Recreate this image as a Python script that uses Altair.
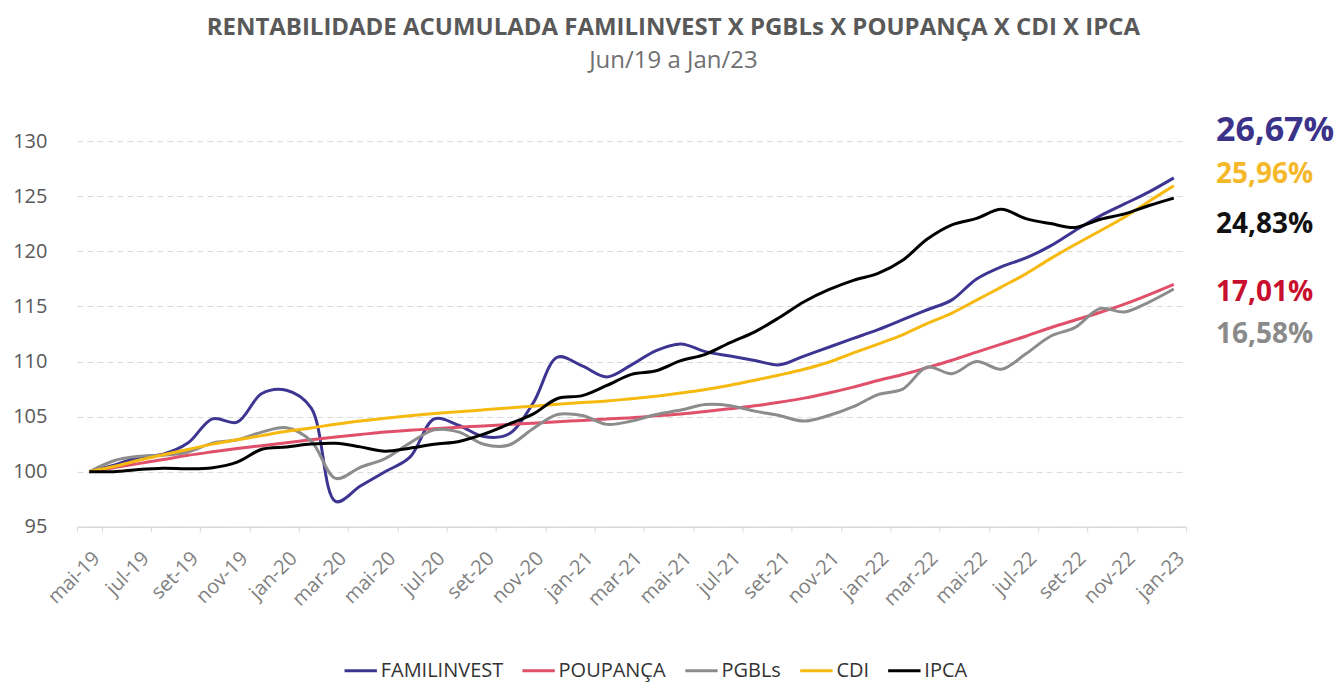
import altair as alt
import pandas as pd

meses = ["mai-19", "jun-19", "jul-19", "ago-19", "set-19", "out-19", "nov-19", "dez-19",
         "jan-20", "fev-20", "mar-20", "abr-20", "mai-20", "jun-20", "jul-20", "ago-20",
         "set-20", "out-20", "nov-20", "dez-20", "jan-21", "fev-21", "mar-21", "abr-21",
         "mai-21", "jun-21", "jul-21", "ago-21", "set-21", "out-21", "nov-21", "dez-21",
         "jan-22", "fev-22", "mar-22", "abr-22", "mai-22", "jun-22", "jul-22", "ago-22",
         "set-22", "out-22", "nov-22", "dez-22", "jan-23"]

familinvest = [100.0, 100.6, 101.3, 101.6, 102.6, 104.8, 104.5, 107.1, 107.4, 105.8,
               97.3, 98.7, 100.0, 101.3, 104.8, 104.2, 103.2, 103.4, 106.2, 110.4,
               109.6, 108.6, 109.7, 111.0, 111.6, 110.9, 110.5, 110.1, 109.7, 110.5,
               111.3, 112.1, 112.9, 113.8, 114.7, 115.6, 117.5, 118.6, 119.4, 120.5,
               121.9, 123.2, 124.3, 125.4, 126.67]
poupanca = [100.0, 100.37, 100.74, 101.11, 101.49, 101.81, 102.11, 102.37, 102.64, 102.90,
            103.15, 103.38, 103.60, 103.77, 103.90, 104.04, 104.16, 104.29, 104.41, 104.54,
            104.66, 104.79, 104.91, 105.08, 105.25, 105.47, 105.72, 105.98, 106.30, 106.68,
            107.15, 107.68, 108.28, 108.82, 109.46, 110.12, 110.86, 111.58, 112.30, 113.07,
            113.77, 114.45, 115.21, 116.08, 117.01]
pgbls = [100.0, 101.0, 101.4, 101.5, 101.8, 102.6, 102.9, 103.6, 104.0, 102.8,
         99.4, 100.4, 101.2, 102.6, 103.8, 103.6, 102.5, 102.4, 103.9, 105.2,
         105.1, 104.3, 104.6, 105.2, 105.6, 106.1, 106.0, 105.5, 105.1, 104.6,
         105.1, 105.9, 107.0, 107.5, 109.5, 108.9, 110.0, 109.3, 110.7, 112.3,
         113.1, 114.8, 114.5, 115.4, 116.58]
cdi = [100.0, 100.47, 101.04, 101.55, 102.02, 102.51, 102.90, 103.28, 103.67, 103.97,
       104.32, 104.61, 104.86, 105.08, 105.28, 105.45, 105.62, 105.79, 105.95, 106.12,
       106.28, 106.42, 106.63, 106.85, 107.14, 107.46, 107.85, 108.30, 108.78, 109.30,
       109.94, 110.78, 111.59, 112.43, 113.46, 114.40, 115.58, 116.76, 117.96, 119.34,
       120.62, 121.85, 123.09, 124.55, 125.96]
ipca = [100.0, 100.01, 100.20, 100.31, 100.27, 100.37, 100.88, 102.04, 102.25, 102.51,
        102.58, 102.26, 101.87, 102.14, 102.50, 102.75, 103.41, 104.30, 105.23, 106.65,
        106.91, 107.83, 108.84, 109.17, 110.08, 110.66, 111.72, 112.70, 114.00, 115.43,
        116.52, 117.37, 118.00, 119.19, 121.12, 122.41, 122.99, 123.81, 122.97, 122.52,
        122.17, 122.89, 123.40, 124.16, 124.83]

series = ["FAMILINVEST", "POUPANÇA", "PGBLs", "CDI", "IPCA"]
valores = [familinvest, poupanca, pgbls, cdi, ipca]
cores = ["#3d3591", "#e0506a", "#8c8c8c", "#f6b90f", "#000000"]

rotulos = ["26,67%", "17,01%", "16,58%", "25,96%", "24,83%"]
cores_rotulo = ["#3b3289", "#c8102e", "#8a8a8a", "#f5b82a", "#111111"]

rows = []
for s, vals in zip(series, valores):
    for m, v in zip(meses, vals):
        rows.append({"mes": m, "serie": s, "valor": v})
df = pd.DataFrame(rows)

W, H = 1110, 386

x = alt.X("mes:N", sort=meses,
          scale=alt.Scale(type="band", paddingInner=0, paddingOuter=0),
          axis=alt.Axis(values=meses[::2], tickBand="extent", labelAngle=-45,
                        labelFontSize=20, labelColor="#7f7f7f", labelFont="Open Sans",
                        domainColor="#d9d9d9", domainWidth=1.5, tickColor="#d9d9d9",
                        tickSize=5, labelPadding=16, title=""))
y = alt.Y("valor:Q", scale=alt.Scale(domain=[95, 130], nice=False, zero=False),
          axis=alt.Axis(values=[95, 100, 105, 110, 115, 120, 125, 130], domain=False,
                        ticks=False, labelFontSize=20, labelColor="#595959",
                        labelFont="Open Sans", labelPadding=30, gridColor="#d9d9d9",
                        gridDash=[6, 4], title=""))

lines = alt.Chart(df).mark_line(interpolate="catmull-rom", strokeWidth=3).encode(
    x=x, y=y,
    color=alt.Color("serie:N", sort=series,
                    scale=alt.Scale(domain=series, range=cores),
                    legend=alt.Legend(orient="none", legendX=266, legendY=512,
                                      direction="horizontal", title="",
                                      symbolType="stroke", symbolStrokeWidth=3,
                                      symbolSize=1050, labelFontSize=20, labelColor="#333333",
                                      labelFont="Open Sans", columnPadding=12,
                                      labelOffset=2)),
)

dys = {"FAMILINVEST": -47, "CDI": -11, "IPCA": 27, "POUPANÇA": 9, "PGBLs": 46}
sizes = {"FAMILINVEST": 34, "CDI": 28, "IPCA": 28, "POUPANÇA": 28, "PGBLs": 28}

layers = [lines]
for s, vals, r, c in zip(series, valores, rotulos, cores_rotulo):
    d = pd.DataFrame({"valor": [vals[-1]], "rotulo": [r]})
    t = alt.Chart(d).mark_text(align="left", baseline="middle", dy=dys[s],
                               fontSize=sizes[s], fontWeight="bold", font="Open Sans",
                               color=c).encode(
        x=alt.value(W + 30), y=alt.Y("valor:Q", scale=alt.Scale(domain=[95, 130])),
        text="rotulo:N")
    layers.append(t)

chart = alt.layer(*layers).properties(
    width=W, height=H,
    title=alt.TitleParams(text="RENTABILIDADE ACUMULADA FAMILINVEST X PGBLs X POUPANÇA X CDI X IPCA",
                          subtitle="Jun/19 a Jan/23", fontSize=24, subtitleFontSize=24,
                          font="Open Sans", subtitleFont="Open Sans", fontWeight="bold",
                          color="#595959", subtitleColor="#707070", anchor="middle",
                          frame="bounds", offset=41, subtitlePadding=9),
    padding={"left": 12, "top": 15, "right": 8, "bottom": 5},
).configure_view(stroke=None)

chart.save("out.html", embed_options={"renderer": "svg", "actions": False})
